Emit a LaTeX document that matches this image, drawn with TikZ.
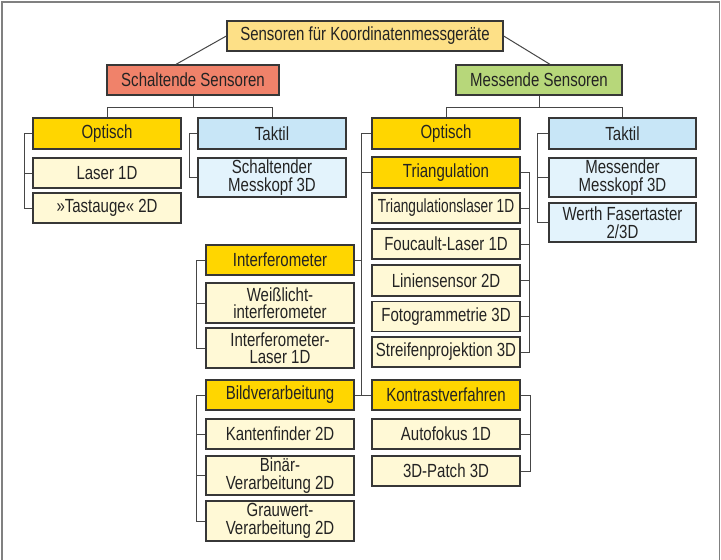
\documentclass[tikz,border=0pt]{standalone}
\usepackage{fontspec}
\setmainfont[FakeStretch=0.79]{Liberation Sans}
\newfontfamily\narrowfont[FakeStretch=0.72]{Liberation Sans}
\usepackage{tikz}

\definecolor{boxline}{RGB}{55,55,55}
\definecolor{conline}{RGB}{70,70,70}
\definecolor{txt}{RGB}{35,35,35}
\definecolor{rootfill}{RGB}{253,224,135}
\definecolor{schaltfill}{RGB}{240,130,106}
\definecolor{messfill}{RGB}{183,215,122}
\definecolor{goldfill}{RGB}{255,214,0}
\definecolor{paleyel}{RGB}{255,249,214}
\definecolor{bluehead}{RGB}{200,230,247}
\definecolor{bluepale}{RGB}{227,243,252}

\tikzset{
  box/.style={draw=boxline, line width=1.3pt, inner sep=0pt, align=center, text=txt,
    minimum width=148, minimum height=30, font=\fontsize{19}{17.5}\selectfont},
  headbox/.style={box, fill=goldfill},
  leafbox/.style={box, fill=paleyel},
  tastbox/.style={box, fill=bluehead},
  tastleaf/.style={box, fill=bluepale},
  con/.style={draw=conline, line width=1pt},
}

\begin{document}
\begin{tikzpicture}[x=1pt,y=1pt,yscale=-1,xscale=1]
\useasboundingbox (0,0) rectangle (721,560);

%Frame
\draw [gray, line width=1.5] (2,560) -- (2,2) -- (719.5,2) -- (719.5,560);

% Text Node
\node [box, fill=rootfill, minimum width=276] (sensoren) at (365,36) {Sensoren für Koordinatenmessgeräte};
% Text Node
\node [box, fill=schaltfill, minimum width=172] (schalt) at (193,80) {Schaltende Sensoren};
% Text Node
\node [box, fill=messfill, minimum width=166] (mess) at (539,80) {Messende Sensoren};

% Text Node
\node [headbox, minimum height=31] (optL) at (107,133.5) {Optisch};
\node [leafbox] (laser) at (107,173) {Laser 1D};
\node [leafbox] (tastauge) at (107,208) {»Tastauge« 2D};
% Text Node
\node [tastbox, minimum height=31] (taktilL) at (272,133.5) {Taktil};
\node [tastleaf, minimum height=39] (schaltkopf) at (272,177.5) {Schaltender\\Messkopf 3D};

% Text Node
\node [headbox, minimum height=31] (optR) at (446,133.5) {Optisch};
\node [headbox, minimum height=31] (triang) at (446,172.5) {Triangulation};
\node [leafbox] (trilaser) at (446,208) {\narrowfont Triangulationslaser 1D};
\node [leafbox] (foucault) at (446,244) {Foucault-Laser 1D};
\node [leafbox, minimum height=31] (linien) at (446,280.5) {Liniensensor 2D};
\node [leafbox] (foto) at (446,316.5) {Fotogrammetrie 3D};
\node [leafbox] (streifen) at (446,352) {Streifenprojektion 3D};
\node [headbox] (kontrast) at (446,395) {Kontrastverfahren};
\node [leafbox] (autofokus) at (446,434) {Autofokus 1D};
\node [leafbox] (patch) at (446,471) {3D-Patch 3D};

% Text Node
\node [tastbox, minimum width=147, minimum height=31] (taktilR) at (622.5,133.5) {Taktil};
\node [tastleaf, minimum width=147, minimum height=39] (messkopf) at (622.5,177.5) {Messender\\Messkopf 3D};
\node [tastleaf, minimum width=147, minimum height=39] (werth) at (622.5,222.5) {Werth Fasertaster\\2/3D};

% Text Node
\node [headbox] (interf) at (280,260) {Interferometer};
\node [leafbox, minimum height=40] (weiss) at (280,303) {Weißlicht-\\interferometer};
\node [leafbox, minimum height=40] (iflaser) at (280,348) {Interferometer-\\Laser 1D};
\node [headbox] (bild) at (280,395) {Bildverarbeitung};
\node [leafbox] (kanten) at (280,434) {Kantenfinder 2D};
\node [leafbox, minimum height=39] (binaer) at (280,475.5) {Binär-\\Verarbeitung 2D};
\node [leafbox, minimum height=40] (grau) at (280,521) {Grauwert-\\Verarbeitung 2D};

%Straight Lines
\draw [con] (sensoren.west) -- ([xshift=-17]schalt.north);
\draw [con] (sensoren.east) -- ([xshift=11]mess.north);

%Straight Lines
\draw [con] (schalt.south) -- ++(0,12) coordinate (sj);
\draw [con] (optL.north) |- (sj) -| (taktilL.north);
\draw [con] (mess.south) -- ++(0,12) coordinate (mj);
\draw [con] (optR.north) |- (mj) -| (taktilR.north);

%Straight Lines
\draw [con] (optL.west) -- ++(-8,0) |- (tastauge.west);
\draw [con] (laser.west) -- ++(-8,0);
\draw [con] (taktilL.west) -- ++(-8,0) |- (schaltkopf.west);
\draw [con] (taktilR.west) -- ++(-11,0) |- (werth.west);
\draw [con] (messkopf.west) -- ++(-11,0);

%Straight Lines
\coordinate (spine) at ([xshift=-10]optR.west);
\draw [con] (optR.west) -- (spine) |- (kontrast.west);
\draw [con] (triang.west) -- (triang.west -| spine);
\draw [con] (interf.east) -- (interf.east -| spine);
\draw [con] (bild.east) -- (kontrast.west);

%Straight Lines
\draw [con] (triang.east) -- ++(9,0) |- (streifen.east);
\foreach \n in {trilaser,foucault,linien,foto}
  \draw [con] (\n.east) -- ++(9,0);
\draw [con] (kontrast.east) -- ++(10,0) |- (patch.east);
\draw [con] (autofokus.east) -- ++(10,0);

%Straight Lines
\draw [con] (interf.west) -- ++(-9,0) |- (iflaser.west);
\draw [con] (weiss.west) -- ++(-9,0);
\draw [con] (bild.west) -- ++(-9,0) |- (grau.west);
\foreach \n in {kanten,binaer}
  \draw [con] (\n.west) -- ++(-9,0);

\end{tikzpicture}
\end{document}
